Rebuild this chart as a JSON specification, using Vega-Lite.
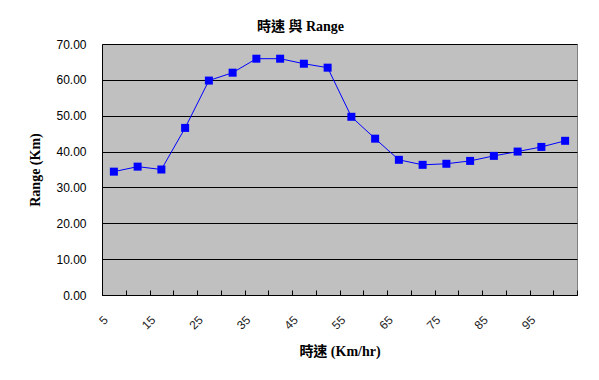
{
  "$schema": "https://vega.github.io/schema/vega-lite/v6.json",
  "width": 475,
  "height": 251,
  "autosize": {"type": "none"},
  "padding": {"left": 102, "top": 44, "right": 22, "bottom": 85},
  "background": "white",
  "title": {
    "text": "時速 與 Range",
    "font": "Liberation Serif, Noto Sans CJK TC",
    "fontSize": 14,
    "fontWeight": "bold",
    "color": "black",
    "anchor": "middle",
    "dx": -39,
    "offset": 4
  },
  "data": {
    "values": [
      {"speed": 5, "range": 34.4},
      {"speed": 10, "range": 35.8},
      {"speed": 15, "range": 35.0},
      {"speed": 20, "range": 46.6},
      {"speed": 25, "range": 59.8},
      {"speed": 30, "range": 62.0},
      {"speed": 35, "range": 65.9},
      {"speed": 40, "range": 65.9},
      {"speed": 45, "range": 64.5},
      {"speed": 50, "range": 63.4},
      {"speed": 55, "range": 49.7},
      {"speed": 60, "range": 43.6},
      {"speed": 65, "range": 37.7},
      {"speed": 70, "range": 36.3},
      {"speed": 75, "range": 36.6},
      {"speed": 80, "range": 37.4},
      {"speed": 85, "range": 38.8},
      {"speed": 90, "range": 40.0},
      {"speed": 95, "range": 41.3},
      {"speed": 100, "range": 43.0}
    ]
  },
  "config": {
    "view": {"fill": "#C0C0C0", "stroke": "#808080", "strokeWidth": 1}
  },
  "encoding": {
    "x": {
      "field": "speed",
      "type": "ordinal",
      "sort": null,
      "scale": {"type": "band", "paddingInner": 0, "paddingOuter": 0},
      "axis": {
        "title": "時速 (Km/hr)",
        "titleFont": "Liberation Serif, Noto Sans CJK TC",
        "titleFontSize": 14,
        "titleFontWeight": "bold",
        "titleColor": "black",
        "titlePadding": 13,
        "labelAngle": -45,
        "labelFont": "Liberation Sans",
        "labelFontSize": 12,
        "labelColor": "#222222",
        "labelPadding": 24,
        "labelOffset": -12,
        "labelExpr": "(datum.value - 5) % 10 == 0 ? datum.label : ''",
        "tickBand": "extent",
        "tickSize": -5,
        "tickColor": "black",
        "domainColor": "black",
        "grid": false
      }
    },
    "y": {
      "field": "range",
      "type": "quantitative",
      "scale": {"domain": [0, 70], "nice": false},
      "axis": {
        "title": "Range (Km)",
        "titleFont": "Liberation Serif, Noto Sans CJK TC",
        "titleFontSize": 14,
        "titleFontWeight": "bold",
        "titleColor": "black",
        "titlePadding": 13,
        "values": [0, 10, 20, 30, 40, 50, 60, 70],
        "format": ".2f",
        "labelFont": "Liberation Sans",
        "labelFontSize": 12,
        "labelColor": "black",
        "labelPadding": 16,
        "ticks": false,
        "domainColor": "black",
        "grid": true,
        "gridColor": "black",
        "gridOpacity": 1,
        "gridWidth": 1
      }
    }
  },
  "layer": [
    {"mark": {"type": "line", "color": "#0000FF", "strokeWidth": 1}},
    {"mark": {"type": "point", "shape": "square", "filled": true, "color": "#0000FF", "size": 64, "opacity": 1}}
  ]
}
